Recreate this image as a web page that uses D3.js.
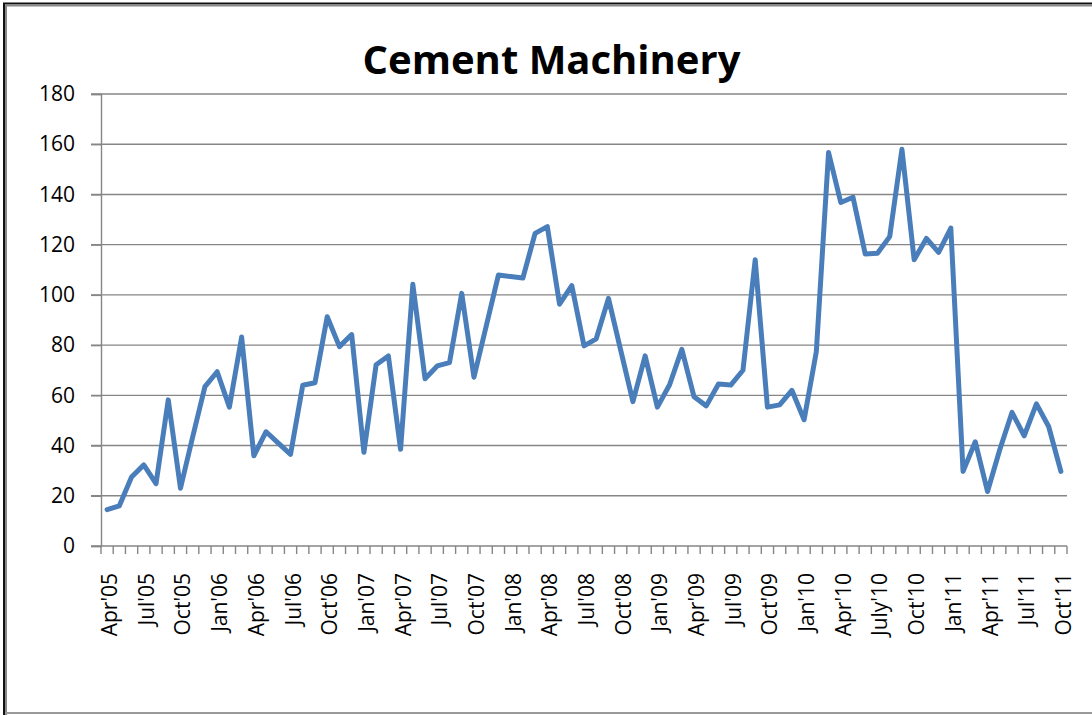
<!DOCTYPE html>
<html>
<head>
<meta charset="utf-8">
<script src="https://cdn.jsdelivr.net/npm/d3@7"></script>
<style>
  html, body { margin: 0; padding: 0; background: #fff; }
  svg { display: block; }
</style>
</head>
<body>
<svg id="chart" width="1092" height="715"></svg>
<script>
const title = "Cement Machinery";

const categories = [
  "Apr'05","May'05","Jun'05","Jul'05","Aug'05","Sep'05","Oct'05","Nov'05","Dec'05",
  "Jan'06","Feb'06","Mar'06","Apr'06","May'06","Jun'06","Jul'06","Aug'06","Sep'06","Oct'06","Nov'06","Dec'06",
  "Jan'07","Feb'07","Mar'07","Apr'07","May'07","Jun'07","Jul'07","Aug'07","Sep'07","Oct'07","Nov'07","Dec'07",
  "Jan'08","Feb'08","Mar'08","Apr'08","May'08","Jun'08","Jul'08","Aug'08","Sep'08","Oct'08","Nov'08","Dec'08",
  "Jan'09","Feb'09","Mar'09","Apr'09","May'09","Jun'09","Jul'09","Aug'09","Sep'09","Oct'09","Nov'09","Dec'09",
  "Jan'10","Feb'10","Mar'10","Apr'10","May'10","Jun'10","July'10","Aug'10","Sep'10","Oct'10","Nov'10","Dec'10",
  "Jan'11","Feb'11","Mar'11","Apr'11","May'11","Jun'11","Jul'11","Aug'11","Sep'11","Oct'11"
];

const values = [
  14.5, 16, 27.5, 32.3, 24.8, 58.2, 23, 43.5, 63.5,
  69.4, 55.3, 83.2, 35.9, 45.5, 41, 36.5, 64, 65, 91.3, 79.4, 84.2,
  37.3, 72.2, 75.7, 38.5, 104.2, 66.6, 71.7, 73, 100.6, 67.2, 87.5, 107.9,
  107.3, 106.7, 124.5, 127.2, 96.3, 103.7, 79.7, 82.5, 98.6, 78, 57.5, 75.7,
  55.3, 64.2, 78.3, 59.4, 55.8, 64.5, 64.1, 70, 114, 55.3, 56.2, 62,
  50.3, 77.4, 156.7, 136.8, 138.9, 116.3, 116.6, 123.2, 158, 114, 122.5, 116.9,
  126.6, 29.7, 41.5, 21.7, 38.3, 53.2, 43.9, 56.6, 47.6, 29.7
];

const tickLabels = [
  "Apr'05","Jul'05","Oct'05","Jan'06","Apr'06","Jul'06","Oct'06","Jan'07","Apr'07",
  "Jul'07","Oct'07","Jan'08","Apr'08","Jul'08","Oct'08","Jan'09","Apr'09","Jul'09",
  "Oct'09","Jan'10","Apr'10","July'10","Oct'10","Jan'11","Apr'11","Jul'11","Oct'11"
];

const yTicks = [0, 20, 40, 60, 80, 100, 120, 140, 160, 180];

const svg = d3.select("#chart");
const font = "'Open Sans', sans-serif";
const gridColor = "#868686";

// outer frame
svg.append("line").attr("x1", 4).attr("y1", 3.5).attr("x2", 4).attr("y2", 715).attr("stroke", "#111").attr("stroke-width", 2);
svg.append("line").attr("x1", 6).attr("y1", 5.5).attr("x2", 6).attr("y2", 715).attr("stroke", "#888").attr("stroke-width", 2);
svg.append("line").attr("x1", 3).attr("y1", 3.5).attr("x2", 1092).attr("y2", 3.5).attr("stroke", "#111").attr("stroke-width", 2);
svg.append("line").attr("x1", 5).attr("y1", 5.5).attr("x2", 1092).attr("y2", 5.5).attr("stroke", "#888").attr("stroke-width", 2);
svg.append("line").attr("x1", 5).attr("y1", 713).attr("x2", 1092).attr("y2", 713).attr("stroke", "#999").attr("stroke-width", 2);

const plotLeft = 101, plotRight = 1067, plotTop = 94, plotBottom = 546;

const x = d3.scaleBand().domain(categories).range([plotLeft, plotRight]).padding(0);
const y = d3.scaleLinear().domain([0, 180]).range([plotBottom, plotTop]);

// gridlines
svg.append("g").selectAll("line").data(yTicks.filter(d => d > 0)).join("line")
  .attr("x1", plotLeft - 10).attr("x2", plotRight)
  .attr("y1", d => y(d)).attr("y2", d => y(d))
  .attr("stroke", gridColor).attr("stroke-width", 1.4);

// y axis
const yAxis = svg.append("g").attr("transform", `translate(${plotLeft},0)`)
  .call(d3.axisLeft(y).tickValues(yTicks).tickSize(10).tickPadding(16).tickFormat(d3.format("d")));
yAxis.select(".domain").attr("stroke", gridColor).attr("stroke-width", 1.4);
yAxis.selectAll(".tick line").attr("stroke", gridColor).attr("stroke-width", 1.4);
yAxis.selectAll("text").attr("font-family", font).attr("font-size", 21).attr("fill", "#000");

// x axis line + tick marks at category boundaries
svg.append("line").attr("x1", plotLeft - 10).attr("x2", plotRight).attr("y1", plotBottom).attr("y2", plotBottom)
  .attr("stroke", gridColor).attr("stroke-width", 1.4);
const bounds = categories.map(c => x(c)).concat([plotRight]);
svg.append("g").selectAll("line").data(bounds).join("line")
  .attr("x1", d => d).attr("x2", d => d).attr("y1", plotBottom).attr("y2", plotBottom + 8)
  .attr("stroke", gridColor).attr("stroke-width", 1.4);

// x labels
const xAxis = svg.append("g").attr("transform", `translate(0,${plotBottom})`)
  .call(d3.axisBottom(x).tickValues(tickLabels).tickSize(0));
xAxis.select(".domain").remove();
xAxis.selectAll("text")
  .attr("font-family", font).attr("font-size", 21).attr("fill", "#000")
  .attr("transform", "translate(0,27) rotate(-90)")
  .attr("text-anchor", "end")
  .attr("x", 0).attr("y", 10).attr("dy", null);

// line
const line = d3.line()
  .x((d, i) => x(categories[i]) + x.bandwidth() / 2)
  .y(d => y(d));
svg.append("path").datum(values).attr("d", line)
  .attr("fill", "none").attr("stroke", "#4A7EBB").attr("stroke-width", 5)
  .attr("stroke-linejoin", "round").attr("stroke-linecap", "round");

// title
svg.append("text").attr("x", 551.5).attr("y", 73.5).attr("text-anchor", "middle")
  .attr("font-family", font).attr("font-weight", "bold").attr("font-size", 40).attr("fill", "#000")
  .text(title);
</script>
</body>
</html>
